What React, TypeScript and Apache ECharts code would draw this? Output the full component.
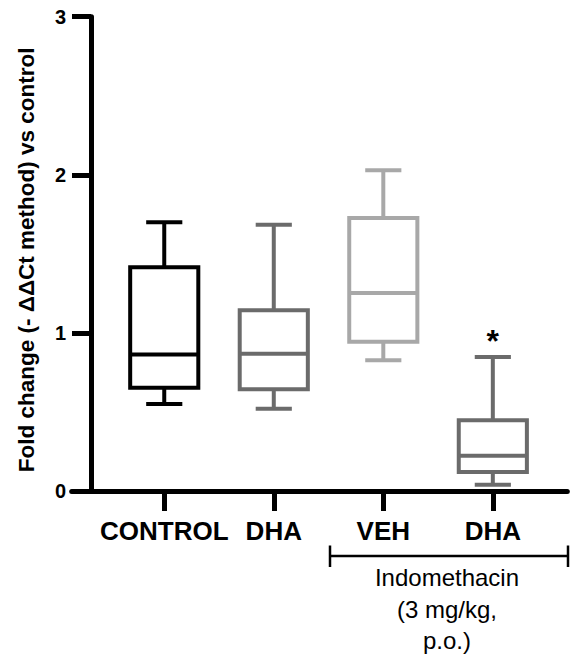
import React, { useEffect, useRef } from 'react';
import * as echarts from 'echarts';

const categories = ['CONTROL', 'DHA', 'VEH', 'DHA'];
const positions = [1, 2, 3, 4];
const whiskerMin = [0.551, 0.52, 0.827, 0.039];
const q1 = [0.653, 0.644, 0.944, 0.12];
const median = [0.863, 0.868, 1.252, 0.223];
const q3 = [1.416, 1.143, 1.727, 0.447];
const whiskerMax = [1.7, 1.684, 2.028, 0.848];
const significance = ['', '', '', '*'];
const boxColors = ['#000000', '#6b6b6b', '#a8a8a8', '#6b6b6b'];
const yAxisTitle = 'Fold change (- ΔΔCt method) vs control';
const groupLabel = 'Indomethacin\n(3 mg/kg,\np.o.)';

const FONT = '"Liberation Sans", Arial, Helvetica, sans-serif';

export default function App() {
  const ref = useRef<HTMLDivElement>(null);

  useEffect(() => {
    document.body.style.margin = '0';
    const chart = echarts.init(ref.current!, null, { renderer: 'svg' });
    const data = positions.map((p, i) => [p, whiskerMin[i], q1[i], median[i], q3[i], whiskerMax[i]]);

    chart.setOption({
      animation: false,
      backgroundColor: '#ffffff',
      grid: { left: 71.7, right: 6.7, top: 16.7, bottom: 167, outerBoundsMode: 'none', containLabel: false },
      xAxis: {
        type: 'value',
        min: 0.155,
        max: 4.68,
        axisLine: { show: true, onZero: false, lineStyle: { color: '#000', width: 5 } },
        axisTick: { show: true, customValues: positions, length: 20, lineStyle: { color: '#000', width: 5 } },
        axisLabel: {
          show: true,
          customValues: positions,
          formatter: (v: number) => categories[Math.round(v) - 1] ?? '',
          margin: 27,
          fontSize: 26,
          fontWeight: 'bold',
          color: '#000',
          fontFamily: FONT,
        },
        splitLine: { show: false },
      },
      yAxis: {
        type: 'value',
        min: 0,
        max: 3,
        interval: 1,
        offset: -19.3,
        axisLine: { show: true, onZero: false, lineStyle: { color: '#000', width: 5 } },
        axisTick: { show: true, length: 19, lineStyle: { color: '#000', width: 5 } },
        axisLabel: { margin: 25, fontSize: 20, fontWeight: 'bold', color: '#000', fontFamily: FONT },
        splitLine: { show: false },
        name: yAxisTitle,
        nameLocation: 'middle',
        nameGap: 53,
        nameRotate: 90,
        nameTextStyle: { fontSize: 22.5, fontWeight: 'bold', color: '#000', fontFamily: FONT, padding: [0, 12, 0, 0] },
      },
      series: [
        {
          type: 'custom',
          clip: false,
          encode: { x: 0, y: [1, 2, 3, 4, 5] },
          data,
          renderItem: (params: any, api: any) => {
            const idx = params.dataIndex;
            const x = api.value(0);
            const unit = api.size([1, 0])[0];
            const halfBox = (unit * 0.622) / 2;
            const halfCap = (unit * 0.33) / 2;
            const pMin = api.coord([x, api.value(1)]);
            const pQ1 = api.coord([x, api.value(2)]);
            const pMed = api.coord([x, api.value(3)]);
            const pQ3 = api.coord([x, api.value(4)]);
            const pMax = api.coord([x, api.value(5)]);
            const cx = pMed[0];
            const color = boxColors[idx];
            const ls = { stroke: color, lineWidth: 4 };
            const children: any[] = [
              { type: 'line', shape: { x1: cx, y1: pQ3[1], x2: cx, y2: pMax[1] }, style: ls },
              { type: 'line', shape: { x1: cx, y1: pQ1[1], x2: cx, y2: pMin[1] }, style: ls },
              { type: 'line', shape: { x1: cx - halfCap, y1: pMax[1], x2: cx + halfCap, y2: pMax[1] }, style: ls },
              { type: 'line', shape: { x1: cx - halfCap, y1: pMin[1], x2: cx + halfCap, y2: pMin[1] }, style: ls },
              {
                type: 'rect',
                shape: { x: cx - halfBox, y: pQ3[1], width: halfBox * 2, height: pQ1[1] - pQ3[1] },
                style: { fill: '#fff', stroke: color, lineWidth: 4 },
              },
              { type: 'line', shape: { x1: cx - halfBox, y1: pMed[1], x2: cx + halfBox, y2: pMed[1] }, style: ls },
            ];
            if (significance[idx]) {
              children.push({
                type: 'text',
                x: cx,
                y: pMax[1] - 15.5,
                style: {
                  text: significance[idx],
                  fontSize: 32,
                  fontWeight: 'bold',
                  fontFamily: FONT,
                  fill: '#000',
                  align: 'center',
                  verticalAlign: 'middle',
                },
              });
            }
            return { type: 'group', children };
          },
        },
      ],
      graphic: [
        { type: 'line', shape: { x1: 330, y1: 556, x2: 568, y2: 556 }, style: { stroke: '#000', lineWidth: 2.5 } },
        { type: 'line', shape: { x1: 330, y1: 545.5, x2: 330, y2: 567 }, style: { stroke: '#000', lineWidth: 2.5 } },
        { type: 'line', shape: { x1: 568, y1: 545.5, x2: 568, y2: 567 }, style: { stroke: '#000', lineWidth: 2.5 } },
        {
          type: 'text',
          x: 447,
          y: 562,
          style: {
            text: groupLabel,
            fontSize: 24,
            lineHeight: 31.5,
            fontFamily: FONT,
            fill: '#000',
            align: 'center',
            verticalAlign: 'top',
          },
        },
      ],
    });

    return () => chart.dispose();
  }, []);

  return <div ref={ref} style={{ position: 'absolute', left: 0, top: 0, width: 574, height: 658 }} />;
}
